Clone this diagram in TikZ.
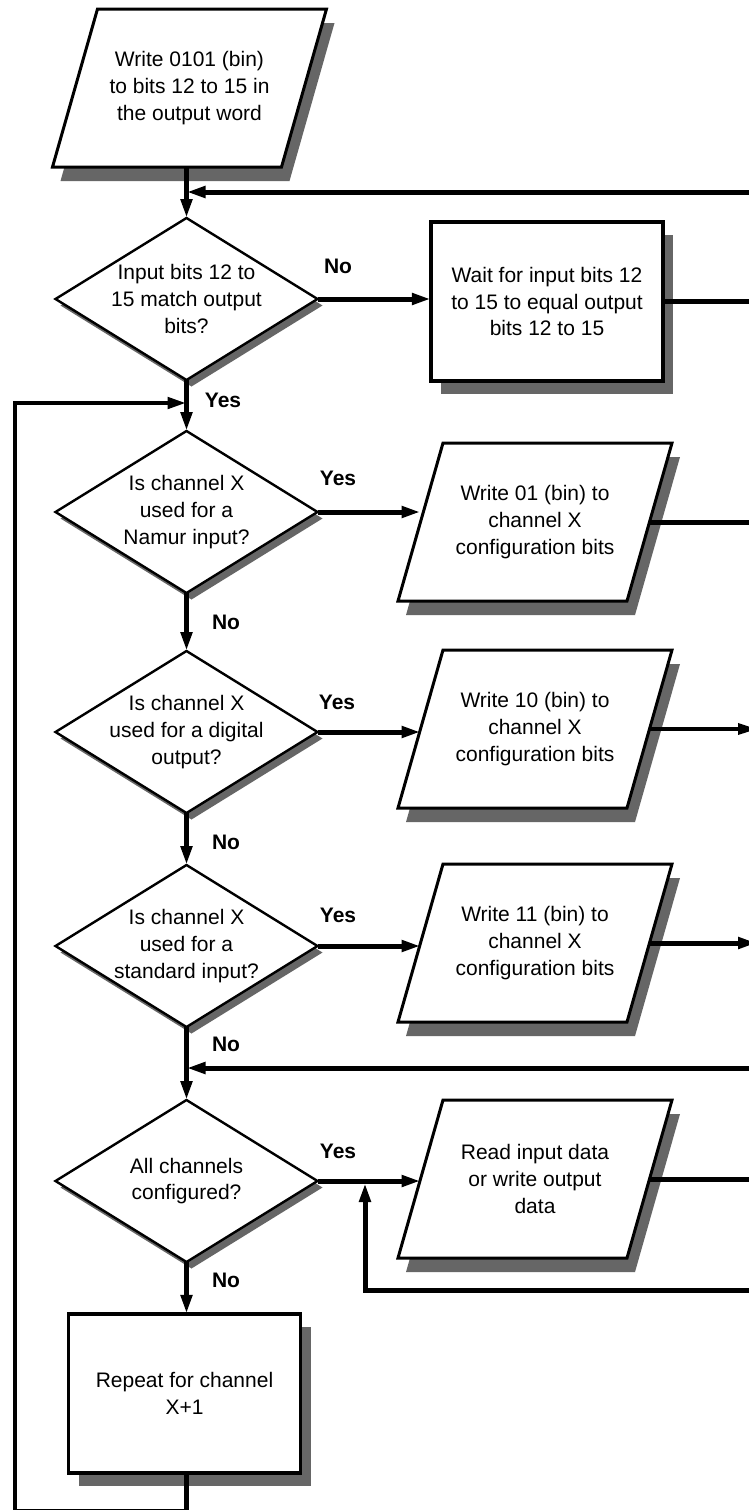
\documentclass[tikz,border=0pt]{standalone}
\usepackage{fontspec}
\setmainfont{Liberation Sans}
\usetikzlibrary{arrows.meta,calc}
\definecolor{shadowgray}{RGB}{102,102,102}
\tikzset{
  conn/.style={line width=5pt},
  arr/.style={conn,-{Triangle[length=19pt,width=11pt]}},
  txt/.style={align=center,inner sep=0pt,font=\fontsize{21}{26.8}\selectfont},
  lbl/.style={inner sep=0pt,font=\fontsize{21}{24}\selectfont\bfseries},
  dborder/.style={draw,line width=2.4pt,fill=white,line join=miter},
  ioborder/.style={draw,line width=3pt,fill=white},
  pborder/.style={draw,line width=3.2pt,fill=white}
}
\newcommand\mydecision[4]{%
  \begin{scope}[shift={(#2,#3)}]
    \fill[shadowgray,shift={(5,6.5)}] (0,-81) -- (131,0) -- (0,81) -- (-131,0) -- cycle;
    \draw[dborder] (0,-81) -- (131,0) -- (0,81) -- (-131,0) -- cycle;
    \node[txt] (#1) at (0,0) {#4};
    \coordinate (#1n) at (0,-81);
    \coordinate (#1s) at (0,81);
    \coordinate (#1e) at (131,0);
    \coordinate (#1w) at (-131,0);
  \end{scope}}
\newcommand\myio[4]{%
  \begin{scope}[shift={(#2,#3)}]
    \fill[shadowgray,shift={(8,14)}] (-92,-79) -- (137,-79) -- (92,79) -- (-137,79) -- cycle;
    \draw[ioborder] (-92,-79) -- (137,-79) -- (92,79) -- (-137,79) -- cycle;
    \node[txt] (#1) at (0,0) {#4};
    \coordinate (#1w) at (-114.5,0);
    \coordinate (#1e) at (114.5,0);
    \coordinate (#1s) at (0,79);
  \end{scope}}
\newcommand\myproc[4]{%
  \begin{scope}[shift={(#2,#3)}]
    \fill[shadowgray,shift={(10,13)}] (-116,-79.5) rectangle (116,79.5);
    \draw[pborder] (-116,-79.5) rectangle (116,79.5);
    \node[txt,minimum width=232pt,minimum height=159pt] (#1) at (0,0) {#4};
  \end{scope}}
\begin{document}
\begin{tikzpicture}[x=1pt,y=-1pt]
\useasboundingbox (0,0) rectangle (749,1510);
\fill[white] (0,0) rectangle (749,1510);

% shapes
\myio{p1}{189.5}{88}{Write 0101 (bin)\\to bits 12 to 15 in\\the output word}
\mydecision{d1}{186.5}{299}{Input bits 12 to\\15 match output\\bits?}
\myproc{wait}{547}{301.5}{Wait for input bits 12\\to 15 to equal output\\bits 12 to 15}
\mydecision{d2}{186.5}{512}{Is channel X\\used for a\\Namur input?}
\myio{p2}{535}{522}{Write 01 (bin) to\\channel X\\configuration bits}
\mydecision{d3}{186.5}{732}{Is channel X\\used for a digital\\output?}
\myio{p3}{535}{729}{Write 10 (bin) to\\channel X\\configuration bits}
\mydecision{d4}{186.5}{946}{Is channel X\\used for a\\standard input?}
\myio{p4}{535}{943}{Write 11 (bin) to\\channel X\\configuration bits}
\mydecision{d5}{186.5}{1181}{All channels\\configured?}
\myio{p5}{535}{1179}{Read input data\\or write output\\data}
\myproc{repeat}{184.5}{1393.5}{Repeat for channel\\X+1}

% labels
\node[lbl] (l1) at (338,266) {No};
\node[lbl] (l2) at (223,400) {Yes};
\node[lbl] (l3) at (338,478) {Yes};
\node[lbl] (l4) at (226,622) {No};
\node[lbl] (l5) at (337,702) {Yes};
\node[lbl] (l6) at (226,842) {No};
\node[lbl] (l7) at (338,915) {Yes};
\node[lbl] (l8) at (226,1044) {No};
\node[lbl] (l9) at (338,1151) {Yes};
\node[lbl] (l10) at (226,1280) {No};

% free ends
\coordinate (rx) at (760,0);
\coordinate (tipx) at (757,0);
\coordinate (fb1) at (760,192);
\coordinate (fb2) at (760,1068);
\coordinate (rb) at (760,1290);
\coordinate (upx) at (365,1183);
\coordinate (lpb) at (15,1511);
\coordinate (lpt) at (15,403);

% connectors
\draw[arr] (p1s -| d1n) -- (d1n);
\draw[arr] (fb1) -- (fb1 -| d1n);
\draw[arr] (d1e) -- (d1e -| wait.west);
\draw[conn] (wait.east) -- (wait.east -| rx);
\draw[arr] (d1s) -- (d2n);
\draw[arr,line width=4.5pt] (repeat.south -| d5s) |- (lpb) -- (lpt) -- (lpt -| d2n);
\draw[arr] (d2e) -- (d2e -| p2w);
\draw[conn] (p2e) -- (p2e -| rx);
\draw[arr] (d2s) -- (d3n);
\draw[arr] (d3e) -- (d3e -| p3w);
\draw[arr,line width=3.5pt] (p3e) -- (p3e -| tipx);
\draw[arr] (d3s) -- (d4n);
\draw[arr] (d4e) -- (d4e -| p4w);
\draw[arr] (p4e) -- (p4e -| tipx);
\draw[arr] (d4s) -- (d5n);
\draw[arr] (fb2) -- (fb2 -| d5n);
\draw[arr] (d5e) -- (d5e -| p5w);
\draw[conn] (p5e) -- (p5e -| rx);
\draw[arr] (rb) -| (upx);
\draw[arr] (d5s) -- (repeat.north -| d5s);
\end{tikzpicture}
\end{document}
